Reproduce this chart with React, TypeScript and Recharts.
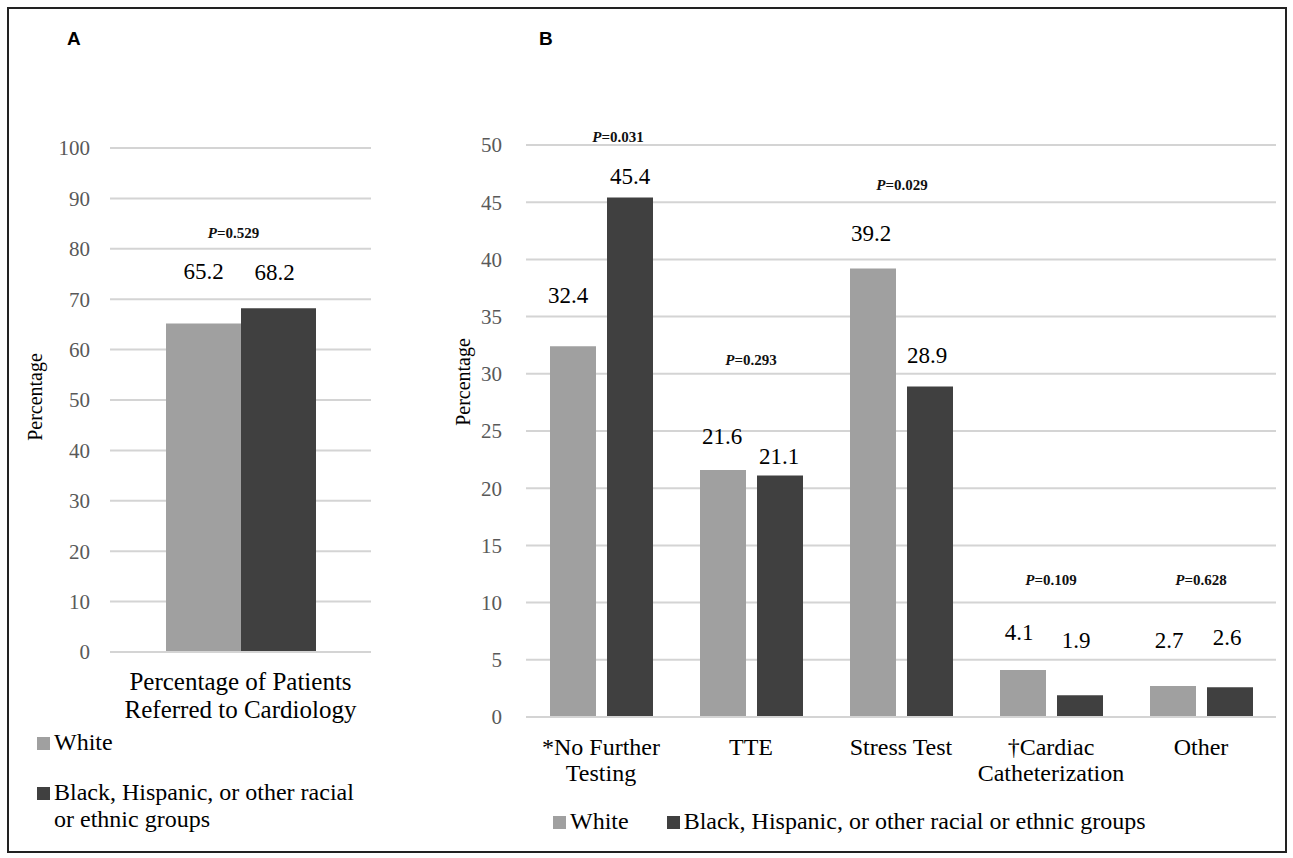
import React from 'react';
import { BarChart, Bar, XAxis, YAxis, CartesianGrid, LabelList, Legend, ReferenceDot } from 'recharts';

// ---------- data ----------
const groupNames = ['White', 'Black, Hispanic, or other racial or ethnic groups'];

const referralCategories = ['Percentage of Patients Referred to Cardiology'];
const referralWhite = [65.2];
const referralMinority = [68.2];
const referralPValues = ['0.529'];
const referralTicks = [0, 10, 20, 30, 40, 50, 60, 70, 80, 90, 100];

const testingCategories = ['*No Further Testing', 'TTE', 'Stress Test', '†Cardiac Catheterization', 'Other'];
const testingWhite = [32.4, 21.6, 39.2, 4.1, 2.7];
const testingMinority = [45.4, 21.1, 28.9, 1.9, 2.6];
const testingPValues = ['0.031', '0.293', '0.029', '0.109', '0.628'];
const testingTicks = [0, 5, 10, 15, 20, 25, 30, 35, 40, 45, 50];

// ---------- layout (annotation placement, not data) ----------
const referralTickLines: Record<string, string[]> = {
  'Percentage of Patients Referred to Cardiology': ['Percentage of Patients', 'Referred to Cardiology'],
};
const testingTickLines: Record<string, string[]> = {
  '*No Further Testing': ['*No Further', 'Testing'],
  TTE: ['TTE'],
  'Stress Test': ['Stress Test'],
  '†Cardiac Catheterization': ['†Cardiac', 'Catheterization'],
  Other: ['Other'],
};
// label centre height above bar top (px) and horizontal nudge
const aLiftWhite = [52];
const aLiftDark = [36];
const aDxWhite = [0];
const aDxDark = [-4];
const bLiftWhite = [51, 33, 35, 38, 46];
const bLiftDark = [21, 19, 31, 55, 50];
const bDxWhite = [-5, -1, -2, -4, -4];
const bDxDark = [0, -1, -3, -4, -3];
// p-value annotation height (in axis units) and horizontal nudge
const aPAt = [83.1];
const aPDx = [-7];
const bPAt = [50.7, 31.2, 46.5, 12.0, 12.0];
const bPDx = [17, 0, 1, 0, 0];

const SERIF = '"Liberation Serif", "Times New Roman", serif';
const SANS = '"Liberation Sans", Arial, sans-serif';
const LIGHT = '#a0a0a0';
const DARK = '#404040';
const GRID = '#d4d4d4';
const TICK = '#595959';

const referralData = referralCategories.map((c, i) => ({
  category: c,
  white: referralWhite[i],
  minority: referralMinority[i],
}));
const testingData = testingCategories.map((c, i) => ({
  category: c,
  white: testingWhite[i],
  minority: testingMinority[i],
}));

const makeValueLabel = (lifts: number[], dxs: number[]) => (props: any) => {
  const { x, y, width, index, value } = props;
  return (
    <text
      x={Number(x) + Number(width) / 2 + dxs[index]}
      y={Number(y) - lifts[index]}
      textAnchor="middle"
      dominantBaseline="central"
      fontFamily={SERIF}
      fontSize={23}
      fill="#000"
    >
      {value}
    </text>
  );
};

const makePLabel = (text: string, dx: number) => (props: any) => {
  const vb = props.viewBox || {};
  const cx = Number(vb.x) + Number(vb.width || 0) / 2 + dx;
  const cy = Number(vb.y) + Number(vb.height || 0) / 2;
  return (
    <text
      x={cx}
      y={cy}
      textAnchor="middle"
      dominantBaseline="central"
      fontFamily={SERIF}
      fontSize={15}
      fontWeight={700}
      fill="#111"
    >
      <tspan fontStyle="italic">P</tspan>
      {'=' + text}
    </text>
  );
};

const makeCatTick = (lines: Record<string, string[]>, fontSize: number, first: number, step: number) => (props: any) => {
  const { x, y, payload } = props;
  const ls = lines[payload.value] || [payload.value];
  return (
    <g>
      {ls.map((l, i) => (
        <text
          key={i}
          x={x}
          y={Number(y) + first + i * step}
          textAnchor="middle"
          dominantBaseline="central"
          fontFamily={SERIF}
          fontSize={fontSize}
          fill="#000"
        >
          {l}
        </text>
      ))}
    </g>
  );
};

const makeYLabel = (dx: number, dy: number) => (props: any) => {
  const vb = props.viewBox || {};
  const cx = Number(vb.x) + dx;
  const cy = Number(vb.y) + Number(vb.height) / 2 + dy;
  return (
    <text
      transform={`translate(${cx}, ${cy}) rotate(-90)`}
      textAnchor="middle"
      dominantBaseline="central"
      fontFamily={SERIF}
      fontSize={20}
      fill="#000"
    >
      Percentage
    </text>
  );
};

const ordered = (payload: any[]) =>
  [...(payload || [])].sort((a, b) => groupNames.indexOf(a.value) - groupNames.indexOf(b.value));

const Marker = ({ color }: { color: string }) => (
  <span
    style={{
      display: 'inline-block',
      width: 13,
      height: 13,
      background: color,
      marginRight: 4,
      flex: '0 0 auto',
      marginTop: 8,
    }}
  />
);

const legendA = (props: any) => (
  <div style={{ fontFamily: SERIF, fontSize: 24, color: '#000', lineHeight: '27px' }}>
    {ordered(props.payload).map((p: any, i: number) => (
      <div key={i} style={{ display: 'flex', alignItems: 'flex-start', marginTop: i === 0 ? 0 : 23 }}>
        <Marker color={p.color} />
        <span style={{ maxWidth: 315 }}>{p.value}</span>
      </div>
    ))}
  </div>
);

const legendB = (props: any) => (
  <div
    style={{
      fontFamily: SERIF,
      fontSize: 24,
      color: '#000',
      lineHeight: '27px',
      display: 'flex',
      whiteSpace: 'nowrap',
    }}
  >
    {ordered(props.payload).map((p: any, i: number) => (
      <div key={i} style={{ display: 'flex', alignItems: 'flex-start', marginLeft: i === 0 ? 0 : 38 }}>
        <Marker color={p.color} />
        <span>{p.value}</span>
      </div>
    ))}
  </div>
);

export default function App() {
  return (
    <div style={{ position: 'absolute', left: 0, top: 0, width: 1293, height: 858, background: '#fff', overflow: 'hidden' }}>
      <div
        style={{
          position: 'absolute',
          left: 7,
          top: 7,
          width: 1280,
          height: 846,
          border: '2px solid #222',
          boxSizing: 'border-box',
        }}
      />
      <div style={{ position: 'absolute', left: 67, top: 28, fontFamily: SANS, fontWeight: 700, fontSize: 19 }}>A</div>
      <div style={{ position: 'absolute', left: 539, top: 28, fontFamily: SANS, fontWeight: 700, fontSize: 19 }}>B</div>

      <div style={{ position: 'absolute', left: 0, top: 0 }}>
        <BarChart
          width={400}
          height={858}
          data={referralData}
          margin={{ top: 148, right: 29, left: 50, bottom: 146 }}
          barSize={75}
          barGap={0}
        >
          <CartesianGrid vertical={false} stroke={GRID} strokeWidth={2} />
          <XAxis
            dataKey="category"
            height={60}
            axisLine={{ stroke: GRID, strokeWidth: 2 }}
            tickLine={false}
            tickSize={0}
            tickMargin={0}
            interval={0}
            tick={makeCatTick(referralTickLines, 25, 29, 28)}
          />
          <YAxis
            width={60}
            domain={[0, 100]}
            ticks={referralTicks}
            interval={0}
            axisLine={false}
            tickLine={false}
            tickSize={6}
            tickMargin={14}
            tick={{ fill: TICK, fontFamily: SERIF, fontSize: 21 }}
            label={makeYLabel(-15, -3)}
          />
          <Legend
            layout="horizontal"
            verticalAlign="middle"
            align="center"
            wrapperStyle={{ left: 37, top: 729, width: 360 }}
            content={legendA}
          />
          <Bar dataKey="white" name={groupNames[0]} fill={LIGHT} isAnimationActive={false} legendType="square">
            <LabelList dataKey="white" content={makeValueLabel(aLiftWhite, aDxWhite)} />
          </Bar>
          <Bar dataKey="minority" name={groupNames[1]} fill={DARK} isAnimationActive={false} legendType="square">
            <LabelList dataKey="minority" content={makeValueLabel(aLiftDark, aDxDark)} />
          </Bar>
          {referralCategories.map((c, i) => (
            <ReferenceDot
              key={c}
              x={c}
              y={aPAt[i]}
              r={0}
              ifOverflow="visible"
              fill="none"
              stroke="none"
              label={makePLabel(referralPValues[i], aPDx[i])}
            />
          ))}
        </BarChart>
      </div>

      <div style={{ position: 'absolute', left: 400, top: 0 }}>
        <BarChart
          width={893}
          height={858}
          data={testingData}
          margin={{ top: 145, right: 17, left: 66, bottom: 81 }}
          barSize={46}
          barGap={11}
        >
          <CartesianGrid vertical={false} stroke={GRID} strokeWidth={2} />
          <XAxis
            dataKey="category"
            height={60}
            axisLine={{ stroke: GRID, strokeWidth: 2 }}
            tickLine={false}
            tickSize={0}
            tickMargin={0}
            interval={0}
            tick={makeCatTick(testingTickLines, 24, 30, 26)}
          />
          <YAxis
            width={60}
            domain={[0, 50]}
            ticks={testingTicks}
            interval={0}
            axisLine={false}
            tickLine={false}
            tickSize={6}
            tickMargin={18}
            tick={{ fill: TICK, fontFamily: SERIF, fontSize: 21 }}
            label={makeYLabel(-3, -49)}
          />
          <Legend
            layout="horizontal"
            verticalAlign="middle"
            align="center"
            wrapperStyle={{ left: 153, top: 808, width: 720 }}
            content={legendB}
          />
          <Bar dataKey="white" name={groupNames[0]} fill={LIGHT} isAnimationActive={false} legendType="square">
            <LabelList dataKey="white" content={makeValueLabel(bLiftWhite, bDxWhite)} />
          </Bar>
          <Bar dataKey="minority" name={groupNames[1]} fill={DARK} isAnimationActive={false} legendType="square">
            <LabelList dataKey="minority" content={makeValueLabel(bLiftDark, bDxDark)} />
          </Bar>
          {testingCategories.map((c, i) => (
            <ReferenceDot
              key={c}
              x={c}
              y={bPAt[i]}
              r={0}
              ifOverflow="visible"
              fill="none"
              stroke="none"
              label={makePLabel(testingPValues[i], bPDx[i])}
            />
          ))}
        </BarChart>
      </div>
    </div>
  );
}
